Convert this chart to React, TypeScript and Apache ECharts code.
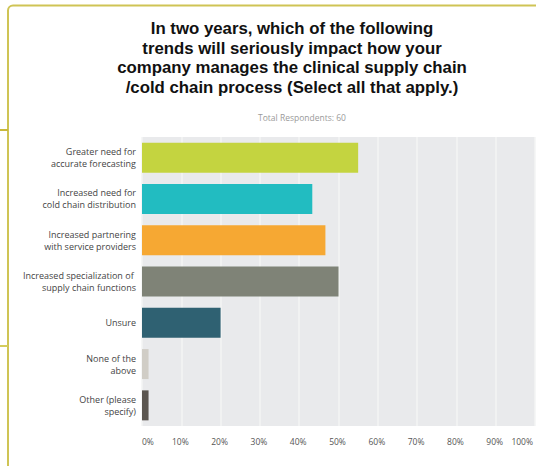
import React, { useEffect, useRef } from "react";
import * as echarts from "echarts";

const categories = [
  "Greater need for\naccurate forecasting",
  "Increased need for\ncold chain distribution",
  "Increased partnering\nwith service providers",
  "Increased specialization of \nsupply chain functions",
  "Unsure",
  "None of the\nabove",
  "Other (please\nspecify)",
];
const values = [55.0, 43.33, 46.67, 50.0, 20.0, 1.67, 1.67];
const barColors = ["#c4d440", "#22bcc1", "#f6a833", "#7f8377", "#2f6172", "#d0cdc6", "#5b5650"];
const xTicks = [0, 10, 20, 30, 40, 50, 60, 70, 80, 90, 100];
const titleText =
  "In two years, which of the following\ntrends will seriously impact how your\ncompany manages the clinical supply chain\n/cold chain process (Select all that apply.)";
const subtitleText = "Total Respondents: 60";

export default function App() {
  const ref = useRef<HTMLDivElement>(null);
  useEffect(() => {
    if (!ref.current) return;
    const chart = echarts.init(ref.current, undefined, { renderer: "svg" });
    chart.setOption({
      animation: false,
      backgroundColor: "#ffffff",
      title: [
        {
          text: titleText,
          left: 287,
          top: 14,
          padding: 5,
          textAlign: "center",
          textStyle: {
            fontFamily: "Liberation Sans",
            fontWeight: "bold",
            fontSize: 16.8,
            lineHeight: 19.5,
            color: "#111111",
          },
        },
        {
          text: subtitleText,
          left: 297,
          top: 107,
          padding: 5,
          textAlign: "center",
          textStyle: {
            fontFamily: "Open Sans",
            fontWeight: "normal",
            fontSize: 8.5,
            lineHeight: 10,
            color: "#9a9a9a",
          },
        },
      ],
      grid: {
        left: 142,
        right: -2,
        top: 137,
        bottom: 40,
        show: true,
        backgroundColor: "#e9eaec",
        borderWidth: 0,
      },
      xAxis: {
        type: "value",
        min: 0,
        max: 100,
        interval: 10,
        axisLine: { show: false },
        axisTick: { show: false },
        splitLine: { show: true, lineStyle: { color: "#f3f4f5", width: 1.5 } },
        axisLabel: {
          formatter: (v: number) => (xTicks.includes(v) ? v + "%" : ""),
          fontFamily: "Open Sans",
          fontSize: 8.5,
          color: "#555555",
          margin: 11,
          alignMinLabel: "left",
          alignMaxLabel: "right",
          padding: [0, 2, 0, 0],
        },
      },
      yAxis: {
        type: "category",
        data: categories,
        inverse: true,
        axisLine: { show: false },
        axisTick: { show: false },
        splitLine: { show: false },
        axisLabel: {
          fontFamily: "Open Sans",
          fontSize: 9,
          lineHeight: 12,
          color: "#444444",
          margin: 6,
          align: "right",
        },
      },
      series: [
        {
          type: "bar",
          barWidth: 30,
          data: values.map((v, i) => ({ value: v, itemStyle: { color: barColors[i] } })),
        },
      ],
      graphic: [
        {
          type: "rect",
          shape: { x: 8, y: 5.5, width: 700, height: 700, r: 5 },
          style: { fill: "none", stroke: "#cfc455", lineWidth: 2 },
          silent: true,
        },
        {
          type: "line",
          shape: { x1: 0, y1: 130, x2: 8, y2: 130 },
          style: { stroke: "#c9b93c", lineWidth: 2 },
        },
        {
          type: "line",
          shape: { x1: 0, y1: 346, x2: 8, y2: 346 },
          style: { stroke: "#d4cc5c", lineWidth: 2 },
        },
      ],
    });
    return () => chart.dispose();
  }, []);
  return (
    <div
      ref={ref}
      style={{ position: "fixed", left: 0, top: 0, width: 536, height: 466 }}
    />
  );
}
